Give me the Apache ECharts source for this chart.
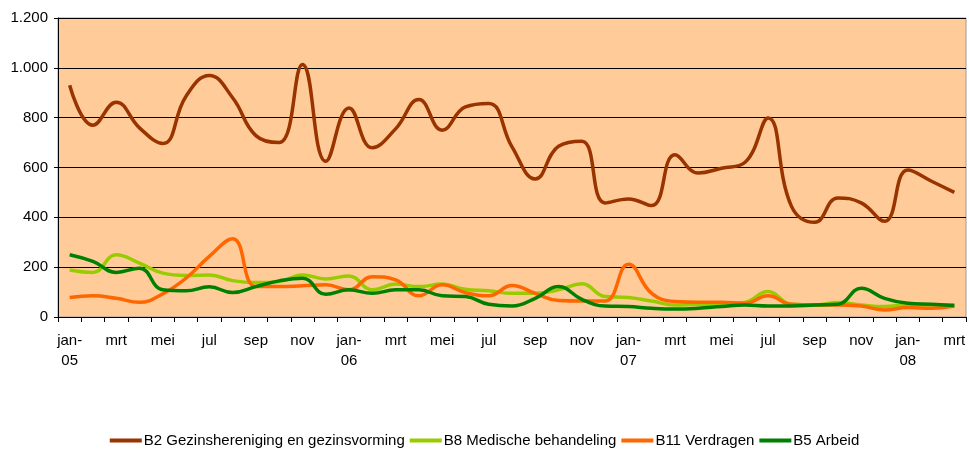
<!DOCTYPE html>
<html>
<head>
<meta charset="utf-8">
<script src="https://cdn.jsdelivr.net/npm/echarts@6/dist/echarts.min.js"></script>
<style>
html,body{margin:0;padding:0;background:#fff;}
#chart{width:969px;height:454px;}
</style>
</head>
<body>
<div id="chart"></div>
<script>
const months = [
  'jan-\n05','feb','mrt','apr','mei','jun','jul','aug','sep','okt','nov','dec',
  'jan-\n06','feb','mrt','apr','mei','jun','jul','aug','sep','okt','nov','dec',
  'jan-\n07','feb','mrt','apr','mei','jun','jul','aug','sep','okt','nov','dec',
  'jan-\n08','feb','mrt'
];
const yTickLabels = ['0','200','400','600','800','1.000','1.200'];

const seriesNames = [
  'B2 Gezinshereniging en gezinsvorming',
  'B8 Medische behandeling',
  'B11 Verdragen',
  'B5 Arbeid'
];
const b2 = [930,770,862,759,696,886,969,880,728,700,1013,625,839,679,755,873,750,843,857,683,
            554,685,705,458,474,447,651,578,597,620,799,445,380,478,458,384,590,546,500];
const b8 = [189,179,250,216,176,167,169,146,138,142,169,153,165,109,132,122,132,111,105,95,
            95,109,133,82,78,64,48,51,51,58,102,51,48,58,48,42,48,48,48];
const b11 = [78,85,75,59,93,156,243,314,122,122,125,129,109,162,149,85,129,98,85,126,
             95,66,64,64,212,95,62,59,59,55,85,51,48,48,44,28,38,35,44];
const b5 = [250,223,179,196,109,105,121,98,122,145,156,91,109,95,109,109,85,82,51,44,
            75,122,71,44,42,35,32,35,42,48,44,44,48,51,115,75,55,51,46];
const colors = ['#993300','#99CC00','#FF6600','#008000'];
const allData = [b2, b8, b11, b5];

const FONT = '"Liberation Sans", Arial, sans-serif';
const chart = echarts.init(document.getElementById('chart'), null, {renderer:'canvas'});
chart.setOption({
  animation: false,
  backgroundColor: '#ffffff',
  textStyle: {fontFamily: FONT},
  grid: {
    left: 58, right: 3, top: 18, bottom: 137,
    show: true, backgroundColor: '#FFCC99', borderColor: '#9a9a9a', borderWidth: 1
  },
  legend: {
    bottom: 1, left: 'center',
    icon: 'rect', itemWidth: 32, itemHeight: 4, itemGap: 5,
    textStyle: {fontFamily: FONT, fontSize: 15, color: '#000', padding: [0, 0, 0, -3]},
    data: seriesNames
  },
  xAxis: {
    type: 'category', boundaryGap: true, data: months,
    axisLine: {lineStyle: {color: '#000', width: 1}},
    axisTick: {show: true, interval: 0, length: 5, lineStyle: {color: '#000'}},
    axisLabel: {interval: 1, color: '#000', fontSize: 15, fontFamily: FONT, lineHeight: 20, margin: 14},
    splitLine: {show: false}
  },
  yAxis: {
    type: 'value', min: 0, max: 1200, interval: 200,
    axisLine: {show: true, lineStyle: {color: '#000', width: 1}},
    axisTick: {show: true, length: 4, lineStyle: {color: '#000'}},
    axisLabel: {
      color: '#000', fontSize: 15, fontFamily: FONT, margin: 10,
      formatter: function (v) { return yTickLabels[Math.round(v / 200)]; }
    },
    splitLine: {show: true, lineStyle: {color: '#000', width: 1}}
  },
  series: allData.map(function (d, i) {
    return {
      name: seriesNames[i], type: 'line', data: d, smooth: 0.45,
      showSymbol: false, symbol: 'none',
      lineStyle: {color: colors[i], width: 3.5},
      itemStyle: {color: colors[i]}
    };
  })
});
</script>
</body>
</html>
